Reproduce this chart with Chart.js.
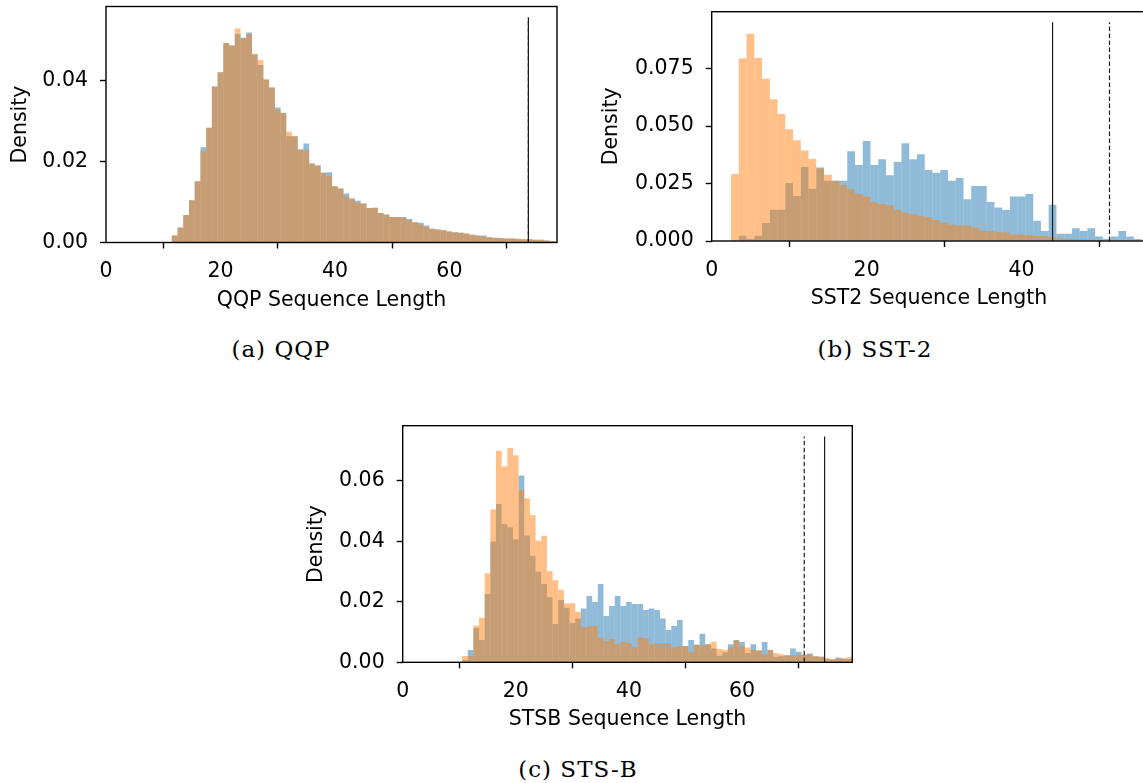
<!DOCTYPE html>
<html lang="en">
<head>
<meta charset="UTF-8">
<title>Sequence length histograms</title>
<script src="https://cdn.jsdelivr.net/npm/chart.js"></script>
<style>
  html, body { margin: 0; padding: 0; background: #fff; overflow: hidden; width: 1143px; height: 783px; }
  canvas { position: absolute; }
  .caption {
    position: absolute; width: 400px; text-align: center; color: #000;
    font-family: "DejaVu Serif", serif; font-size: 23px; letter-spacing: 1px; line-height: 23px;
  }
</style>
</head>
<body>
<canvas id="qqp" width="580" height="320" style="left:0px;top:0px"></canvas>
<canvas id="sst2" width="560" height="320" style="left:590px;top:0px"></canvas>
<canvas id="stsb" width="600" height="330" style="left:280px;top:415px"></canvas>
<div class="caption" style="left:81px;top:338px">(a) QQP</div>
<div class="caption" style="left:675px;top:338px">(b) SST-2</div>
<div class="caption" style="left:378px;top:758px">(c) STS-B</div>
<script>
// --- data (density per sequence length, bins of width 1) ---
const qqpFirstBin = 12;
const qqpOrange = [0.0017, 0.0037, 0.0068, 0.0104, 0.0151, 0.0225, 0.0283, 0.0385, 0.0420, 0.0492,
  0.0486, 0.0528, 0.0503, 0.0514, 0.0464, 0.0450, 0.0402, 0.0382, 0.0328, 0.0319,
  0.0273, 0.0262, 0.0228, 0.0228, 0.0195, 0.0190, 0.0172, 0.0164, 0.0139, 0.0133,
  0.0114, 0.0106, 0.0098, 0.0096, 0.0085, 0.0086, 0.0073, 0.0069, 0.0063, 0.0063,
  0.0061, 0.0055, 0.0050, 0.0045, 0.0038, 0.0034, 0.0032, 0.0030, 0.0027, 0.0025,
  0.0024, 0.0022, 0.0019, 0.0017, 0.0015, 0.0013, 0.0012, 0.0011, 0.0010, 0.0010,
  0.0010, 0.0008, 0.0008, 0.0007, 0.0007, 0.0005, 0.0004];
const qqpBlue = [0.0017, 0.0037, 0.0068, 0.0104, 0.0151, 0.0235, 0.0283, 0.0385, 0.0420, 0.0492,
  0.0486, 0.0514, 0.0505, 0.0518, 0.0464, 0.0438, 0.0402, 0.0382, 0.0333, 0.0320,
  0.0262, 0.0262, 0.0230, 0.0244, 0.0195, 0.0190, 0.0172, 0.0173, 0.0139, 0.0133,
  0.0121, 0.0109, 0.0103, 0.0096, 0.0085, 0.0086, 0.0073, 0.0069, 0.0063, 0.0063,
  0.0063, 0.0058, 0.0050, 0.0049, 0.0042, 0.0034, 0.0032, 0.0030, 0.0027, 0.0025,
  0.0024, 0.0022, 0.0019, 0.0017, 0.0017, 0.0013, 0.0012, 0.0011, 0.0010, 0.0010,
  0.0008, 0.0008, 0.0008, 0.0007, 0.0007, 0.0005, 0.0004];
const qqpLines = [{ x: 73.8, top: 0.0555, dashed: false }, { x: 73.8, top: 0.0555, dashed: true }];

const sst2FirstBin = 3;
const sst2Orange = [0.0291, 0.0793, 0.0901, 0.0796, 0.0706, 0.0616, 0.0552, 0.0486, 0.0438, 0.0393,
  0.0357, 0.0316, 0.0288, 0.0262, 0.0243, 0.0225, 0.0204, 0.0193, 0.0168, 0.0161,
  0.0155, 0.0135, 0.0123, 0.0117, 0.0110, 0.0103, 0.0091, 0.0080, 0.0072, 0.0067,
  0.0067, 0.0058, 0.0046, 0.0043, 0.0038, 0.0038, 0.0028, 0.0028, 0.0026, 0.0022,
  0.0022, 0.0016, 0.0012, 0.0009, 0.0009, 0.0007, 0.0005, 0.0004, 0.0003, 0.0003,
  0.0003, 0.0002, 0.0001];
const sst2Blue = [0.0000, 0.0023, 0.0009, 0.0023, 0.0078, 0.0136, 0.0136, 0.0252, 0.0196, 0.0322,
  0.0227, 0.0320, 0.0262, 0.0262, 0.0262, 0.0390, 0.0330, 0.0435, 0.0330, 0.0355,
  0.0286, 0.0343, 0.0425, 0.0355, 0.0377, 0.0309, 0.0297, 0.0309, 0.0262, 0.0274,
  0.0181, 0.0239, 0.0239, 0.0170, 0.0146, 0.0135, 0.0193, 0.0193, 0.0204, 0.0088,
  0.0043, 0.0158, 0.0032, 0.0032, 0.0055, 0.0043, 0.0055, 0.0020, 0.0009, 0.0020,
  0.0043, 0.0020, 0.0009];
const sst2Lines = [{ x: 44.0, top: 0.0951, dashed: false }, { x: 51.35, top: 0.0951, dashed: true }];

const stsbFirstBin = 11;
const stsbOrange = [0.0021, 0.0021, 0.0121, 0.0147, 0.0294, 0.0506, 0.0699, 0.0647, 0.0708, 0.0684,
  0.0570, 0.0541, 0.0486, 0.0402, 0.0418, 0.0301, 0.0271, 0.0240, 0.0195, 0.0195,
  0.0167, 0.0116, 0.0119, 0.0120, 0.0081, 0.0070, 0.0077, 0.0060, 0.0068, 0.0064,
  0.0050, 0.0083, 0.0080, 0.0060, 0.0064, 0.0064, 0.0064, 0.0050, 0.0054, 0.0054,
  0.0033, 0.0058, 0.0056, 0.0060, 0.0068, 0.0044, 0.0041, 0.0049, 0.0073, 0.0053,
  0.0049, 0.0041, 0.0041, 0.0026, 0.0041, 0.0031, 0.0027, 0.0023, 0.0023, 0.0025,
  0.0025, 0.0025, 0.0020, 0.0018, 0.0014, 0.0010, 0.0011, 0.0014, 0.0017];
const stsbBlue = [0.0008, 0.0041, 0.0113, 0.0074, 0.0226, 0.0399, 0.0523, 0.0457, 0.0446, 0.0407,
  0.0617, 0.0419, 0.0352, 0.0299, 0.0259, 0.0215, 0.0127, 0.0206, 0.0180, 0.0129,
  0.0145, 0.0178, 0.0219, 0.0199, 0.0259, 0.0153, 0.0186, 0.0219, 0.0186, 0.0199,
  0.0193, 0.0193, 0.0173, 0.0178, 0.0173, 0.0145, 0.0107, 0.0120, 0.0140, 0.0054,
  0.0074, 0.0058, 0.0094, 0.0060, 0.0046, 0.0022, 0.0033, 0.0060, 0.0074, 0.0067,
  0.0031, 0.0060, 0.0038, 0.0067, 0.0041, 0.0018, 0.0020, 0.0023, 0.0046, 0.0035,
  0.0025, 0.0029, 0.0020, 0.0018, 0.0010, 0.0010, 0.0016, 0.0011, 0.0011];
const stsbLines = [{ x: 71.0, top: 0.0746, dashed: true }, { x: 74.6, top: 0.0746, dashed: false }];

// tick labels
const qqpXTicks = [0, 20, 40, 60];
const qqpYTicks = [0, 0.02, 0.04];
const sst2XTicks = [0, 20, 40];
const sst2YTicks = [0, 0.025, 0.05, 0.075];
const stsbXTicks = [0, 20, 40, 60];
const stsbYTicks = [0, 0.02, 0.04, 0.06];

const font = { family: 'DejaVu Sans', size: 20.5, lineHeight: 1.2 };

// matplotlib-like box around the axes
const frame = {
  id: 'frame',
  afterDraw(chart) {
    const { ctx, chartArea: a } = chart;
    ctx.save();
    ctx.strokeStyle = '#000';
    ctx.lineWidth = 1.4;
    ctx.strokeRect(a.left, a.top, a.right - a.left, a.bottom - a.top);
    ctx.restore();
  }
};

function histogram(id, c) {
  const points = arr => arr.map((v, i) => ({ x: c.firstBin + i, y: v }));
  const datasets = c.lines.map(l => ({
    type: 'line',
    data: [{ x: l.x, y: 0 }, { x: l.x, y: l.top }],
    borderColor: '#1a1a1a',
    borderWidth: 1.2,
    borderDash: l.dashed ? [4.5, 2.5] : [],
    pointRadius: 0,
    order: 0
  }));
  datasets.push({ type: 'bar', data: points(c.orange), backgroundColor: 'rgba(255,127,14,0.5)', order: 1 });
  datasets.push({ type: 'bar', data: points(c.blue), backgroundColor: 'rgba(31,119,180,0.5)', order: 2 });

  const grid = { drawOnChartArea: false, drawTicks: true, tickLength: 6, tickWidth: 1.4, tickColor: '#000' };

  new Chart(document.getElementById(id), {
    type: 'bar',
    data: { datasets },
    options: {
      responsive: false,
      animation: false,
      devicePixelRatio: 1,
      layout: { padding: { left: 0, top: c.padTop, right: c.padRight, bottom: 0 } },
      datasets: { bar: { barPercentage: 1, categoryPercentage: 1, grouped: false, borderWidth: 0, inflateAmount: 0 } },
      plugins: { legend: { display: false }, tooltip: { enabled: false } },
      scales: {
        x: {
          type: 'linear', min: 0, max: c.xMax, offset: false,
          afterBuildTicks: s => { s.ticks = c.xTicks.map(v => ({ value: v })); },
          afterFit: s => { s.height = c.xHeight; s.paddingLeft = 0; s.paddingRight = 0; },
          ticks: { font, color: '#000', padding: 11, maxRotation: 0, autoSkip: false, callback: v => String(v) },
          grid, border: { display: false },
          title: { display: true, text: c.xTitle, font, color: '#000', padding: { top: 0, bottom: c.xTitlePad } }
        },
        y: {
          type: 'linear', min: 0, max: c.yMax,
          afterBuildTicks: s => { s.ticks = c.yTicks.map(v => ({ value: v })); },
          afterFit: s => { s.width = c.yWidth; s.paddingTop = 0; s.paddingBottom = 0; },
          ticks: { font, color: '#000', padding: 12, autoSkip: false, callback: v => v.toFixed(c.decimals) },
          grid, border: { display: false },
          title: { display: true, text: 'Density', font, color: '#000', padding: { top: c.yTitlePad, bottom: 0 } }
        }
      }
    },
    plugins: [frame]
  });
}

histogram('qqp', {
  firstBin: qqpFirstBin, orange: qqpOrange, blue: qqpBlue, lines: qqpLines,
  xTicks: qqpXTicks, yTicks: qqpYTicks, xMax: 78.8, yMax: 0.0582, decimals: 2,
  xTitle: 'QQP Sequence Length',
  padTop: 6.5, padRight: 23, yWidth: 106, xHeight: 77.5, xTitlePad: 7.5, yTitlePad: 8.2
});
histogram('sst2', {
  firstBin: sst2FirstBin, orange: sst2Orange, blue: sst2Blue, lines: sst2Lines,
  xTicks: sst2XTicks, yTicks: sst2YTicks, xMax: 56.1, yMax: 0.0997, decimals: 3,
  xTitle: 'SST2 Sequence Length',
  padTop: 11.7, padRight: 3.7, yWidth: 121.7, xHeight: 79, xTitlePad: 9, yTitlePad: 9.4
});
histogram('stsb', {
  firstBin: stsbFirstBin, orange: stsbOrange, blue: stsbBlue, lines: stsbLines,
  xTicks: stsbXTicks, yTicks: stsbYTicks, xMax: 79.5, yMax: 0.0782, decimals: 2,
  xTitle: 'STSB Sequence Length',
  padTop: 10.7, padRight: 27.7, yWidth: 122.7, xHeight: 82.7, xTitlePad: 12.7, yTitlePad: 24.7
});
</script>
</body>
</html>
